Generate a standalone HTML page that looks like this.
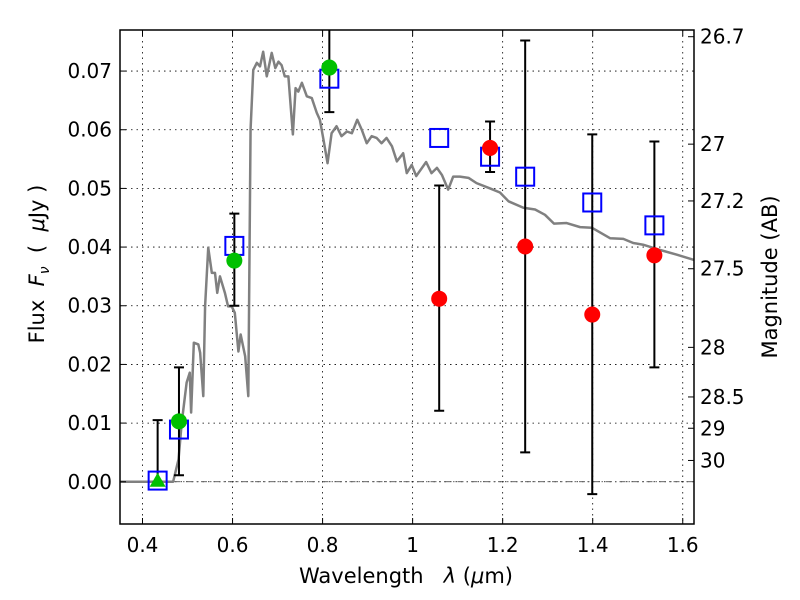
<!DOCTYPE html>
<html><head><meta charset="utf-8"><style>
body{margin:0;background:#fff}
svg{display:block;font-family:"DejaVu Sans","Liberation Sans",sans-serif}
</style></head><body>
<svg id="chart" width="800" height="600" viewBox="0 0 800 600" xmlns="http://www.w3.org/2000/svg">
<rect x="0" y="0" width="800" height="600" fill="#fff"/>
<g id="grid"></g>
<g id="plot"></g>
<rect x="120" y="30" width="574" height="494" fill="none" stroke="#000" stroke-width="1.5"/>
<g id="axes" font-size="20" fill="#000"></g>
<text x="406" y="583" font-size="21" text-anchor="middle" xml:space="preserve">Wavelength   <tspan font-style="italic">λ</tspan> (<tspan font-style="italic">μ</tspan>m)</text>
<text transform="translate(44,264) rotate(-90)" font-size="21" text-anchor="middle" xml:space="preserve">Flux  <tspan font-style="italic">F</tspan><tspan font-style="italic" font-size="14" dy="5">ν</tspan><tspan dy="-5">  (  </tspan><tspan font-style="italic">μ</tspan>Jy )</text>
<text transform="translate(777,277) rotate(-90)" font-size="21" text-anchor="middle">Magnitude (AB)</text>
</svg>
<script>
const xTicks=[0.4,0.6,0.8,1.0,1.2,1.4,1.6];
const xTickLabels=["0.4","0.6","0.8","1","1.2","1.4","1.6"];
const yTicks=[0,0.01,0.02,0.03,0.04,0.05,0.06,0.07];
const yTickLabels=["0.00","0.01","0.02","0.03","0.04","0.05","0.06","0.07"];
const magTicks=[26.7,27,27.2,27.5,28,28.5,29,30];
const magTickLabels=["26.7","27","27.2","27.5","28","28.5","29","30"];
const specLam=[0.35,0.468,0.480,0.487,0.498,0.505,0.508,0.514,0.524,0.528,0.535,0.539,0.546,0.554,0.561,0.566,0.572,0.583,0.590,0.598,0.605,0.613,0.618,0.628,0.635,0.640,0.646,0.654,0.661,0.668,0.676,0.687,0.695,0.702,0.709,0.716,0.724,0.734,0.740,0.746,0.754,0.765,0.776,0.787,0.794,0.802,0.811,0.820,0.831,0.842,0.854,0.865,0.877,0.887,0.898,0.909,0.920,0.931,0.942,0.954,0.965,0.979,0.987,0.998,1.008,1.030,1.042,1.054,1.065,1.079,1.090,1.105,1.124,1.142,1.172,1.194,1.213,1.246,1.272,1.294,1.314,1.342,1.372,1.398,1.439,1.468,1.490,1.512,1.550,1.587,1.625];
const specFlux=[0,0,0.0038,0.010,0.0169,0.0186,0.0118,0.0237,0.0234,0.022,0.0146,0.0299,0.0399,0.0356,0.0356,0.0322,0.035,0.0322,0.0299,0.0299,0.0288,0.0222,0.0251,0.0214,0.0146,0.060,0.0702,0.0714,0.0708,0.0733,0.0691,0.0731,0.0705,0.0716,0.071,0.0691,0.0691,0.0592,0.0671,0.0665,0.068,0.0657,0.0654,0.0629,0.0617,0.0583,0.0543,0.0594,0.0606,0.0589,0.0597,0.0594,0.0617,0.06,0.0577,0.0589,0.0586,0.0577,0.0586,0.0572,0.0546,0.056,0.0526,0.054,0.0521,0.0545,0.0526,0.0535,0.0523,0.0498,0.052,0.052,0.0518,0.0509,0.05,0.0493,0.0478,0.0467,0.0464,0.0455,0.044,0.0441,0.0434,0.0433,0.0415,0.0414,0.0407,0.0404,0.0395,0.0387,0.0378];
const bandLam=[0.4336,0.481,0.604,0.815,1.059,1.172,1.25,1.399,1.537];
const modelFlux=[0.0002,0.0089,0.0402,0.0687,0.0586,0.0554,0.0520,0.0476,0.0437];
const errLow=[0,0.0011,0.0300,0.063,0.0121,0.0528,0.0050,-0.0021,0.0195];
const errHigh=[0.0105,0.0195,0.0457,0.080,0.0505,0.0614,0.0752,0.0592,0.058];
const detLam=[0.481,0.604,0.815];
const detFlux=[0.0103,0.0377,0.0706];
const obsLam=[1.059,1.172,1.25,1.399,1.537];
const obsFlux=[0.0312,0.0569,0.0401,0.0285,0.0386];
const limLam=[0.4336];
const limFlux=[0];

const L=120,R=694,T=30,B=524,xmin=0.35,xmax=1.625,ymin=-0.0072,ymax=0.077;
const X=v=>L+(v-xmin)/(xmax-xmin)*(R-L);
const Y=v=>B-(v-ymin)/(ymax-ymin)*(B-T);
const magToFlux=m=>Math.pow(10,(23.9-m)/2.5);
const NS="http://www.w3.org/2000/svg";
function mk(tag,attrs,parent){const e=document.createElementNS(NS,tag);for(const k in attrs)e.setAttribute(k,attrs[k]);document.getElementById(parent).appendChild(e);return e;}

xTicks.forEach((t,i)=>{
  const g=mk('line',{x1:X(t),x2:X(t),y1:T,y2:B,stroke:'#000','stroke-width':0.8,'stroke-dasharray':'1.5,4'},'grid');
  
  
  mk('line',{x1:X(t),x2:X(t),y1:B,y2:B-6,stroke:'#000'},'axes');
  mk('line',{x1:X(t),x2:X(t),y1:T,y2:T+6,stroke:'#000'},'axes');
  const tx=mk('text',{x:X(t),y:B+28,'text-anchor':'middle'},'axes');
  tx.textContent=xTickLabels[i];
  
  
});
yTicks.forEach((t,i)=>{
  const g=mk('line',{x1:L,x2:R,y1:Y(t),y2:Y(t),stroke:'#000','stroke-width':0.8,'stroke-dasharray':'1.5,4'},'grid');
  
  
  mk('line',{x1:L,x2:L+6,y1:Y(t),y2:Y(t),stroke:'#000'},'axes');
  const tx=mk('text',{x:L-8,y:Y(t)+7,'text-anchor':'end'},'axes');
  tx.textContent=yTickLabels[i];
  
  
});
magTicks.forEach((m,i)=>{
  const y=Y(magToFlux(m));
  mk('line',{x1:R-6,x2:R,y1:y,y2:y,stroke:'#000'},'axes');
  const tx=mk('text',{x:R+6,y:y+7,'text-anchor':'start'},'axes');
  tx.textContent=magTickLabels[i];
  
  
});
const zl=mk('line',{x1:L,x2:R,y1:Y(0),y2:Y(0),stroke:'#333','stroke-width':0.8,'stroke-dasharray':'6,3,1.5,3'},'grid');



const sp=mk('polyline',{points:specLam.map((l,i)=>X(l)+','+Y(specFlux[i])).join(' '),fill:'none',stroke:'#808080','stroke-width':2.5,'stroke-linejoin':'round'},'plot');



bandLam.forEach((l,i)=>{
  const x=X(l),y1=Math.max(Y(errHigh[i]),T),y2=Y(errLow[i]);
  const e=mk('path',{d:`M${x},${y1}V${y2}`+(errHigh[i]<ymax?`M${x-5},${y1}H${x+5}`:'')+`M${x-5},${y2}H${x+5}`,stroke:'#000','stroke-width':2,fill:'none'},'plot');
  
  
});
bandLam.forEach((l,i)=>{
  const s=mk('rect',{x:X(l)-9,y:Y(modelFlux[i])-9,width:18,height:18,fill:'none',stroke:'#0000ff','stroke-width':2},'plot');
  
  
});
limLam.forEach((l,i)=>{
  const x=X(l),y=Y(limFlux[i]);
  const t=mk('polygon',{points:`${x},${y-9} ${x-8},${y+5} ${x+8},${y+5}`,fill:'#00c000'},'plot');
  
  
});
detLam.forEach((l,i)=>{
  const c=mk('circle',{cx:X(l),cy:Y(detFlux[i]),r:8,fill:'#00c000'},'plot');
  
  
});
obsLam.forEach((l,i)=>{
  const c=mk('circle',{cx:X(l),cy:Y(obsFlux[i]),r:8,fill:'#ff0000'},'plot');
  
  
});
</script>
</body></html>
